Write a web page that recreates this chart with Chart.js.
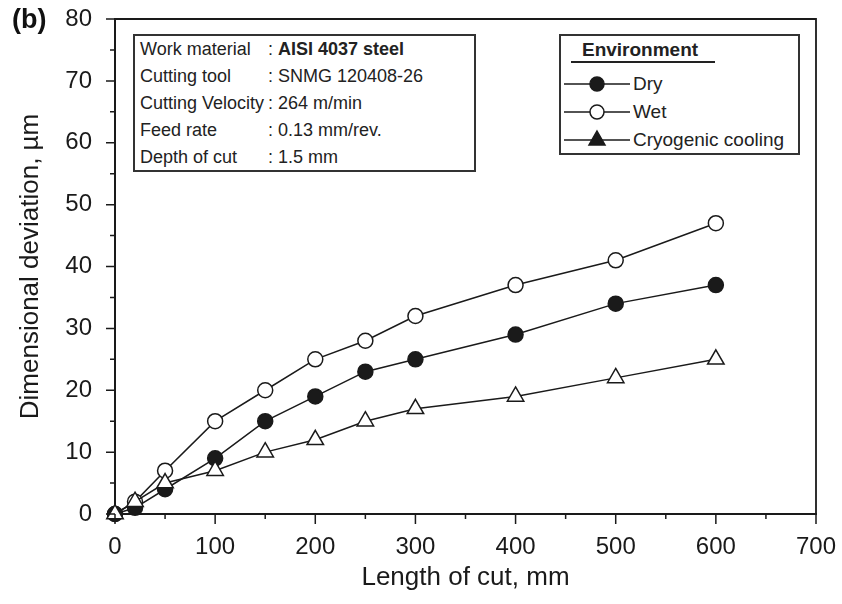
<!DOCTYPE html>
<html>
<head>
<meta charset="utf-8">
<script src="https://cdn.jsdelivr.net/npm/chart.js@4.4.1/dist/chart.umd.min.js"></script>
<style>
  html, body { margin: 0; padding: 0; background: #fff; }
  #wrap { position: relative; width: 842px; height: 604px; font-family: "Liberation Sans", Arial, Helvetica, sans-serif; color: #222; }
  #chart { position: absolute; left: 0; top: 0; }
  #panel { position: absolute; left: 12px; top: 4px; font-size: 27px; font-weight: bold; color: #111; }
  #info { position: absolute; left: 133px; top: 35px; width: 334px; height: 134px; border: 2px solid #333; background: #fff;
          font-size: 18px; line-height: 27px; padding: 0 0 0 5px; box-sizing: content-box; margin-top: -1px; }
  #info .row { white-space: nowrap; }
  #info .lbl { display: inline-block; min-width: 124px; padding-right: 4px; }
  #legend { position: absolute; left: 559px; top: 34px; width: 237px; height: 117px; border: 2px solid #333; background: #fff; }
  #legend .head { position: absolute; left: 21px; top: 2px; font-size: 19px; font-weight: bold; line-height: 24px; }
  #legend .rule { position: absolute; left: 10px; top: 25px; width: 144px; height: 0; border-top: 2px solid #222; }
  #legend .item { position: absolute; left: 3px; height: 24px; font-size: 19px; line-height: 24px; white-space: nowrap; }
  #legend svg { vertical-align: top; }
</style>
</head>
<body>
<div id="wrap">
  <canvas id="chart" width="842" height="604"></canvas>
  <div id="panel">(b)</div>
  <div id="info"></div>
  <div id="legend"><div class="head">Environment</div><div class="rule"></div></div>
</div>
<script>
// length of cut (mm) and dimensional deviation (µm) per environment
const lengthOfCut = [0, 20, 50, 100, 150, 200, 250, 300, 400, 500, 600];
const dryDeviation = [0, 1, 4, 9, 15, 19, 23, 25, 29, 34, 37];
const wetDeviation = [0, 2, 7, 15, 20, 25, 28, 32, 37, 41, 47];
const cryoDeviation = [0, 2, 5, 7, 10, 12, 15, 17, 19, 22, 25];
const seriesNames = ['Dry', 'Wet', 'Cryogenic cooling'];

const xRange = [0, 700];
const yRange = [0, 80];
const xStep = 100;
const yStep = 10;

const conditionLabels = ['Work material', 'Cutting tool', 'Cutting Velocity', 'Feed rate', 'Depth of cut'];
const conditionValues = ['AISI 4037 steel', 'SNMG 120408-26', '264 m/min', '0.13 mm/rev.', '1.5 mm'];

const INK = '#1a1a1a';
const FONT = '"Liberation Sans", Arial, Helvetica, sans-serif';

function points(ys) {
  return lengthOfCut.map((x, i) => ({ x: x, y: ys[i] }));
}

// cutting conditions box
const info = document.getElementById('info');
conditionLabels.forEach((lbl, i) => {
  const row = document.createElement('div');
  row.className = 'row';
  const val = i === 0 ? '<b>' + conditionValues[i] + '</b>' : conditionValues[i];
  row.innerHTML = '<span class="lbl">' + lbl + '</span>: ' + val;
  info.appendChild(row);
});

// outward ticks (major + minor) and the top/right frame
const frameAndTicks = {
  id: 'frameAndTicks',
  afterDraw(chart) {
    const { ctx, chartArea: a, scales: { x, y } } = chart;
    ctx.save();
    ctx.strokeStyle = INK;
    ctx.lineWidth = 1.8;
    ctx.beginPath();
    ctx.moveTo(a.left, a.top);
    ctx.lineTo(a.right, a.top);
    ctx.lineTo(a.right, a.bottom);
    ctx.stroke();

    ctx.lineWidth = 1.5;
    ctx.beginPath();
    for (let v = x.min; v <= x.max; v += xStep / 2) {
      const px = x.getPixelForValue(v);
      const len = (v % xStep === 0) ? 10 : 5;
      ctx.moveTo(px, a.bottom);
      ctx.lineTo(px, a.bottom + len);
    }
    for (let v = y.min; v <= y.max; v += yStep / 2) {
      const py = y.getPixelForValue(v);
      const len = (v % yStep === 0) ? 9 : 5;
      ctx.moveTo(a.left, py);
      ctx.lineTo(a.left - len, py);
    }
    ctx.stroke();
    ctx.restore();
  }
};

const lineStyle = { borderColor: INK, borderWidth: 1.5, tension: 0, pointBorderColor: INK, pointBorderWidth: 1.5, clip: false };

const chart = new Chart(document.getElementById('chart').getContext('2d'), {
  type: 'line',
  data: {
    datasets: [
      Object.assign({ label: seriesNames[2], data: points(cryoDeviation), pointStyle: 'triangle', pointRadius: 9.5,
        pointBackgroundColor: '#fff', order: 1 }, lineStyle),
      Object.assign({ label: seriesNames[0], data: points(dryDeviation), pointStyle: 'circle', pointRadius: 7.5,
        pointBackgroundColor: INK, order: 2 }, lineStyle),
      Object.assign({ label: seriesNames[1], data: points(wetDeviation), pointStyle: 'circle', pointRadius: 7.5,
        pointBackgroundColor: '#fff', order: 3 }, lineStyle)
    ]
  },
  options: {
    responsive: false,
    animation: false,
    layout: { padding: { top: 19, right: 26, left: 0, bottom: 0 } },
    plugins: { legend: { display: false }, tooltip: { enabled: false } },
    scales: {
      x: {
        type: 'linear',
        min: xRange[0], max: xRange[1],
        ticks: { stepSize: xStep, padding: 19, color: INK, font: { family: FONT, size: 24 } },
        grid: { drawOnChartArea: false, drawTicks: false },
        border: { color: INK, width: 2 },
        title: { display: true, text: 'Length of cut, mm', color: INK, font: { family: FONT, size: 26 },
          padding: { top: 0, bottom: 11 } },
        afterFit(scale) {
          scale.height = 90;
          // the layout padding alone sets the plot edges
          scale.paddingLeft = 0;
          scale.paddingRight = 0;
        }
      },
      y: {
        min: yRange[0], max: yRange[1],
        ticks: { stepSize: yStep, padding: 23, color: INK, font: { family: FONT, size: 24 } },
        grid: { drawOnChartArea: false, drawTicks: false },
        border: { color: INK, width: 2 },
        title: { display: true, text: 'Dimensional deviation, µm', color: INK, font: { family: FONT, size: 26 },
          padding: { top: 15, bottom: 0 } },
        afterFit(scale) {
          scale.width = 115;
          scale.paddingTop = 0;
          scale.paddingBottom = 0;
        }
      }
    }
  },
  plugins: [frameAndTicks]
});

// legend: line through marker, drawn as small svg swatches
const legend = document.getElementById('legend');
const swatches = {
  'Dry': '<circle cx="33" cy="12" r="7" fill="' + INK + '" stroke="' + INK + '" stroke-width="1.5"/>',
  'Wet': '<circle cx="33" cy="12" r="7" fill="#fff" stroke="' + INK + '" stroke-width="1.5"/>',
  'Cryogenic cooling': '<polygon points="33,3 41,17 25,17" fill="' + INK + '" stroke="' + INK + '" stroke-width="1.5"/>'
};
seriesNames.forEach((name, i) => {
  const item = document.createElement('div');
  item.className = 'item';
  item.style.top = (36 + i * 28) + 'px';
  item.innerHTML = '<svg width="66" height="24"><line x1="0" y1="12" x2="66" y2="12" stroke="' + INK + '" stroke-width="1.5"/>' +
    swatches[name] + '</svg><span style="margin-left:3px">' + name + '</span>';
  legend.appendChild(item);
});
</script>
</body>
</html>
